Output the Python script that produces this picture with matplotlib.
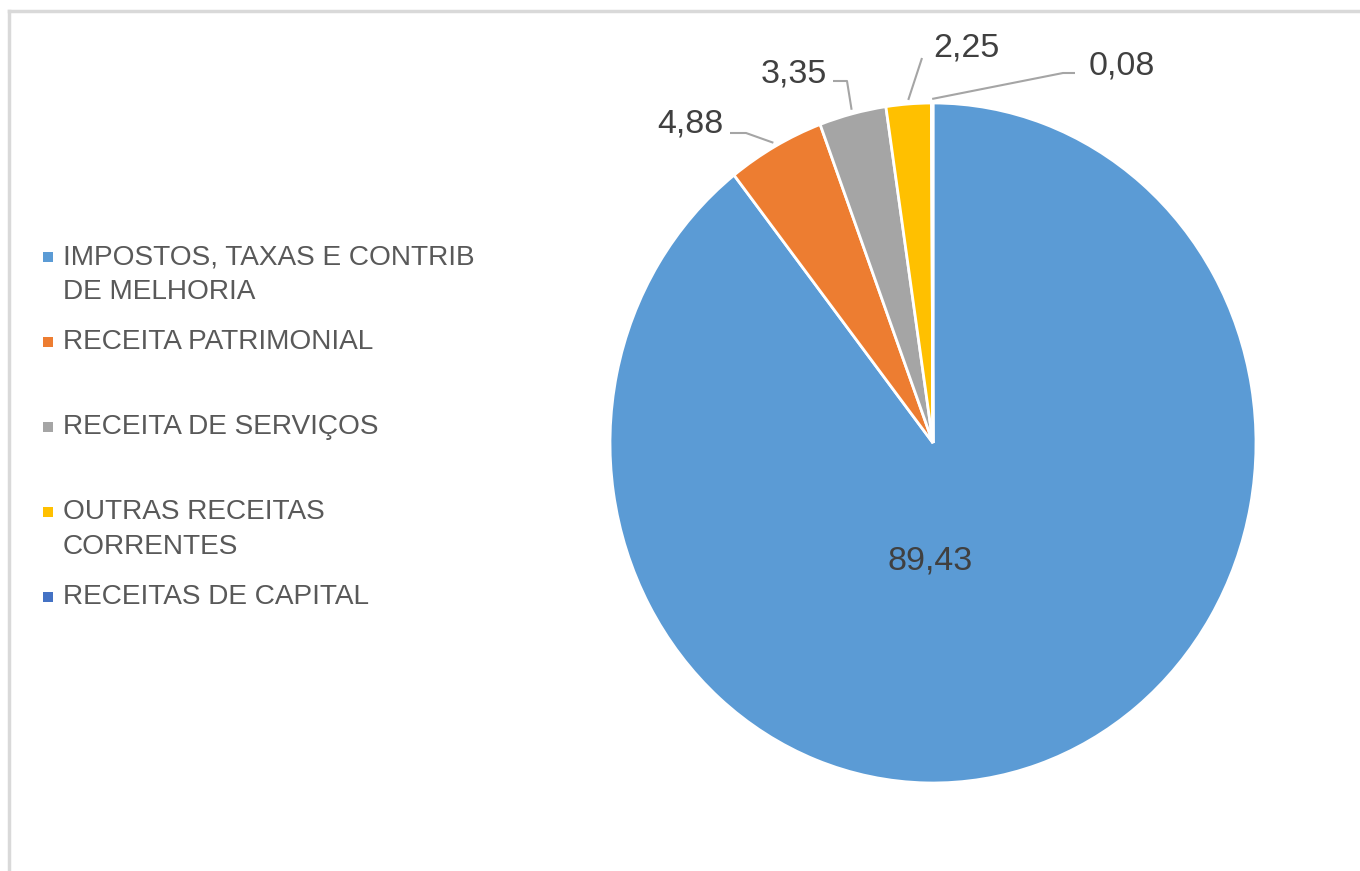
import matplotlib
matplotlib.use("Agg")
import matplotlib.pyplot as plt
from matplotlib.patches import Rectangle
from matplotlib.lines import Line2D
import numpy as np

categories = ["IMPOSTOS, TAXAS E CONTRIB\nDE MELHORIA", "RECEITA PATRIMONIAL",
              "RECEITA DE SERVIÇOS", "OUTRAS RECEITAS\nCORRENTES", "RECEITAS DE CAPITAL"]
values = [89.43, 4.88, 3.35, 2.25, 0.08]
value_labels = ["89,43", "4,88", "3,35", "2,25", "0,08"]
colors = ["#5B9BD5", "#ED7D31", "#A5A5A5", "#FFC000", "#4472C4"]

plt.rcParams['font.family'] = ['Liberation Sans', 'DejaVu Sans']

W, H = 1360, 871
fig = plt.figure(figsize=(W / 100, H / 100), dpi=100)

# axes placement: center (933,443) px, rx=323, ry=340
cx, cy, rx, ry = 933, 443, 323, 340
lim = 1.25
ax = fig.add_axes([(cx - lim * rx) / W, (H - cy - lim * ry) / H,
                   2 * lim * rx / W, 2 * lim * ry / H])
wedges, _ = ax.pie(values, colors=colors, startangle=90, counterclock=False,
                   wedgeprops=dict(edgecolor="white", linewidth=2.0))
ax.set_xlim(-lim, lim)
ax.set_ylim(-lim, lim)
ax.set_aspect('auto')
ax.axis('off')

label_color = "#404040"
line_color = "#A5A5A5"
fs_lab = 24.5

def px(x, y):
    return ((x - cx) / rx, (cy - y) / ry)

# big slice label inside (x center, baseline)
tx, ty = px(930, 570)
ax.text(tx, ty, value_labels[0], ha='center', va='baseline', fontsize=fs_lab, color=label_color)

# outside labels: (text center x / baseline px, leader path px excluding wedge point)
outside = {
    1: ((690, 133), [(730, 133), (746, 133)]),
    2: ((794, 83), [(833, 81), (847, 81)]),
    3: ((966, 57), [(922, 58)]),
    4: ((1122, 75), [(1075, 73), (1063, 73)]),
}
for i, (tc, path) in outside.items():
    w = wedges[i]
    mid = np.deg2rad((w.theta1 + w.theta2) / 2)
    r = 1.012
    wx, wy = r * np.cos(mid), r * np.sin(mid)
    pts = [px(*p) for p in path] + [(wx, wy)]
    xs, ys = zip(*pts)
    ax.plot(xs, ys, color=line_color, lw=1.5, clip_on=False, solid_capstyle='butt')
    tx, ty = px(*tc)
    ax.text(tx, ty, value_labels[i], ha='center', va='baseline', fontsize=fs_lab,
            color=label_color, clip_on=False)

# legend (manual, Excel-like)
legend_color = "#595959"
fs_leg = 20.2
marker_y = [257, 342, 427, 512, 597]
line_gap = 35
for i, cat in enumerate(categories):
    y0 = marker_y[i]
    fig.patches.append(Rectangle(((43) / W, (H - y0 - 5) / H), 10 / W, 10 / H,
                                 transform=fig.transFigure, facecolor=colors[i],
                                 edgecolor='none'))
    for j, line in enumerate(cat.split("\n")):
        fig.text(63 / W, (H - (y0 + j * line_gap)) / H, line, ha='left', va='center',
                 fontsize=fs_leg, color=legend_color)

# chart frame (partially visible)
frame_c = "#D9D9D9"
fig.add_artist(Line2D([9 / W, 9 / W], [0, (H - 11) / H], color=frame_c, lw=2.5,
                      transform=fig.transFigure))
fig.add_artist(Line2D([9 / W, 1], [(H - 11) / H, (H - 11) / H], color=frame_c, lw=2.5,
                      transform=fig.transFigure))

fig.savefig("out.png", dpi=100, facecolor="white")
